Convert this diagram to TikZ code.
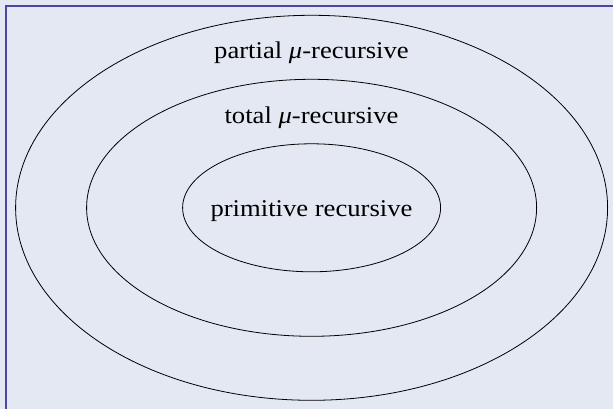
\documentclass[tikz,border=0pt]{standalone}
\usepackage{fontspec}
\setmainfont{Liberation Serif}
\definecolor{bgfill}{RGB}{227,232,242}
\definecolor{framecol}{RGB}{72,72,160}
\begin{document}
\begin{tikzpicture}[x=1pt,y=1pt,
  ring/.style={draw=black, line width=0.8pt},
  lbl/.style={anchor=base, inner sep=0pt, xscale=1.11, transform shape, font=\fontsize{24}{28}\selectfont}]
\useasboundingbox (0,0) rectangle (613,409);
\fill[bgfill] (0,0) rectangle (613,409);
\coordinate (fa) at (5.8,0);
\coordinate (fb) at (5.8,403.2);
\coordinate (fc) at (613,403.2);
\draw[framecol, line width=1.5pt] (fa) -- (fb) -- (fc);
\coordinate (c) at (311.6,201.2);
\draw[ring] (c) ellipse [x radius=296, y radius=192.5];
\draw[ring] (c) ellipse [x radius=225, y radius=128.5];
\draw[ring] (c) ellipse [x radius=129, y radius=64];
\node[lbl] (partial) at (311.5,350) {partial \textit{μ}-recursive};
\node[lbl] (total) at (311.5,285.2) {total \textit{μ}-recursive};
\node[lbl] (prim) at (311.5,192.3) {primitive recursive};
\end{tikzpicture}
\end{document}
